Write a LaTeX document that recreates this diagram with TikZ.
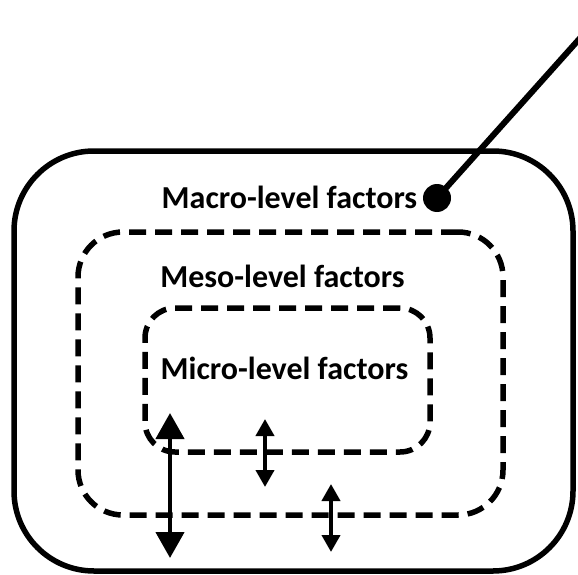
\documentclass[tikz,border=0pt]{standalone}
\usepackage{fontspec}
\setmainfont{Carlito}
\usetikzlibrary{arrows.meta, positioning}

\begin{document}
\begin{tikzpicture}[x=1pt, y=-1pt,
        level/.style={rectangle, draw=black, line width=5.5pt, inner sep=0pt},
        dashlevel/.style={level, dash pattern=on 17pt off 9pt},
        label/.style={font=\bfseries\fontsize{32}{38}\selectfont, inner sep=0pt, anchor=base},
        bigarrow/.style={line width=4.5pt, {Triangle[width=28pt,length=26pt]}-{Triangle[width=28pt,length=26pt]}},
        smallarrow/.style={line width=4pt, {Triangle[width=18pt,length=17pt]}-{Triangle[width=18pt,length=17pt]}}
    ]
        \useasboundingbox (0,0) rectangle (578,575);

        \node [level, rounded corners=80pt, minimum width=559pt, minimum height=420pt] (macro) at (293.5,361) {};
        \node [dashlevel, rounded corners=45pt, minimum width=425pt, minimum height=283pt] (meso) at (290.5,373.5) {};
        \node [dashlevel, rounded corners=30pt, minimum width=285pt, minimum height=144pt] (micro) at (287.5,380) {};

        \node [label] (macrotext) at (289.5,208) {Macro-level factors};
        \node [label] (mesotext) at (282.5,287) {Meso-level factors};
        \node [label] (microtext) at (284.5,379) {Micro-level factors};

        \node [circle, fill=black, minimum size=28pt, inner sep=0pt] (dot) at (437,198) {};
        \coordinate (lineend) at (590,27);
        \draw [line width=6pt] (dot.center) -- (lineend);

        % arrows between the levels
        \coordinate (bigtop) at (170,413);
        \coordinate (bigbottom) at (170,558);
        \coordinate (innertop) at (265,419);
        \coordinate (innerbottom) at (265,487);
        \coordinate (outertop) at (331,484);
        \coordinate (outerbottom) at (331,552);
        \draw [bigarrow] (bigtop) -- (bigbottom);
        \draw [smallarrow] (innertop) -- (innerbottom);
        \draw [smallarrow] (outertop) -- (outerbottom);
    \end{tikzpicture}
\end{document}
